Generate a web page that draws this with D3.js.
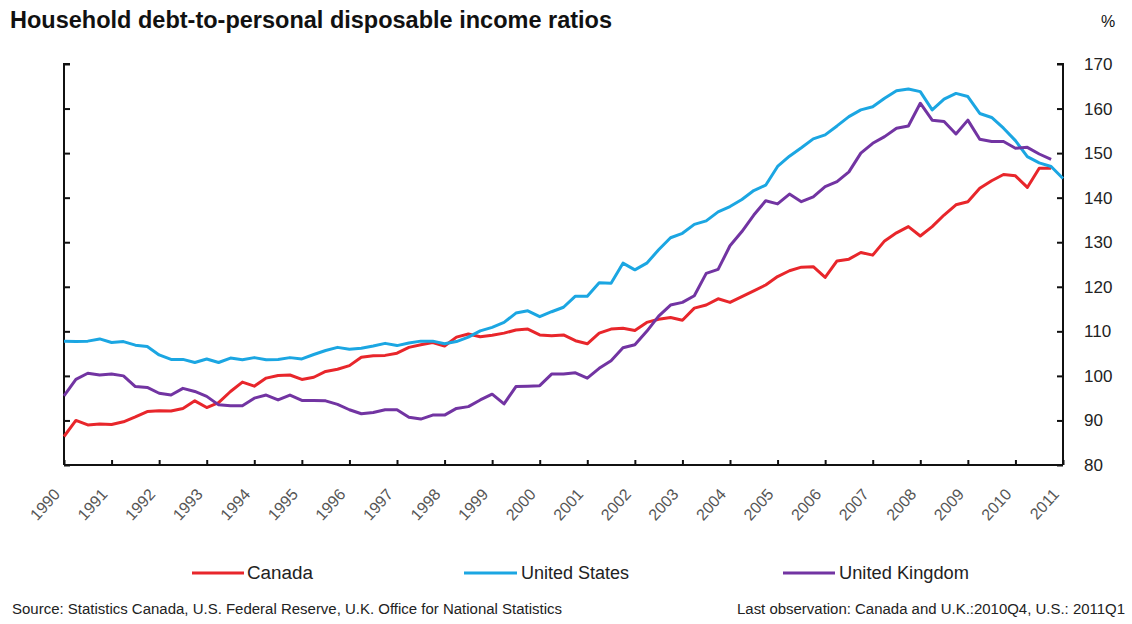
<!DOCTYPE html>
<html>
<head>
<meta charset="utf-8">
<script src="https://cdn.jsdelivr.net/npm/d3@7"></script>
<style>
  body { margin: 0; background: #fff; }
  svg { display: block; font-family: "Liberation Sans Narrow", "Liberation Sans", Arial, sans-serif; }
</style>
</head>
<body>
<svg id="chart" width="1132" height="624"></svg>
<script>
// quarterly ratios, first point 1990Q1
const canada = [86.4, 90.0, 89.0, 89.2, 89.1, 89.7, 90.8, 92.0, 92.2, 92.1, 92.7, 94.4,
  92.9, 94.0, 96.5, 98.6, 97.7, 99.5, 100.1, 100.2, 99.2, 99.7, 101.0, 101.5,
  102.3, 104.2, 104.5, 104.6, 105.1, 106.4, 107.0, 107.5, 106.7, 108.7, 109.4, 108.8,
  109.1, 109.6, 110.3, 110.5, 109.2, 109.0, 109.2, 107.9, 107.2, 109.6, 110.5, 110.7,
  110.2, 112.0, 112.7, 113.1, 112.5, 115.2, 115.9, 117.3, 116.5, 117.8, 119.1, 120.4,
  122.3, 123.6, 124.4, 124.5, 122.1, 125.8, 126.2, 127.7, 127.1, 130.3, 132.1, 133.5,
  131.4, 133.5, 136.1, 138.4, 139.1, 142.1, 143.8, 145.2, 144.9, 142.3, 146.6, 146.6];

const unitedStates = [107.8, 107.7, 107.8, 108.3, 107.5, 107.7, 106.9, 106.6, 104.7, 103.7, 103.7, 103.0,
  103.8, 103.0, 104.0, 103.6, 104.1, 103.6, 103.7, 104.1, 103.8, 104.8, 105.7, 106.4,
  106.0, 106.2, 106.7, 107.3, 106.8, 107.4, 107.8, 107.8, 107.2, 107.7, 108.7, 110.1,
  110.9, 112.0, 114.1, 114.6, 113.3, 114.4, 115.4, 117.9, 117.9, 120.9, 120.8, 125.3,
  123.8, 125.3, 128.3, 131.0, 132.0, 134.0, 134.8, 136.8, 138.0, 139.6, 141.6, 142.8,
  147.0, 149.3, 151.2, 153.2, 154.1, 156.1, 158.2, 159.7, 160.4, 162.3, 164.0, 164.4,
  163.8, 159.7, 162.1, 163.4, 162.7, 158.9, 158.0, 155.6, 152.8, 149.2, 147.8, 147.0,
  144.3];

const unitedKingdom = [95.5, 99.2, 100.6, 100.2, 100.4, 100.0, 97.6, 97.4, 96.1, 95.7, 97.2, 96.5,
  95.4, 93.5, 93.3, 93.3, 95.0, 95.7, 94.6, 95.7, 94.5, 94.5, 94.4, 93.6,
  92.4, 91.5, 91.8, 92.4, 92.4, 90.7, 90.3, 91.2, 91.2, 92.7, 93.1, 94.6,
  95.9, 93.7, 97.6, 97.7, 97.8, 100.4, 100.4, 100.7, 99.5, 101.7, 103.4, 106.3,
  107.0, 110.0, 113.4, 115.9, 116.5, 118.0, 123.0, 123.9, 129.2, 132.4, 136.1, 139.3,
  138.6, 140.8, 139.1, 140.2, 142.5, 143.6, 145.8, 150.0, 152.2, 153.7, 155.6, 156.1,
  161.2, 157.4, 157.1, 154.3, 157.4, 153.1, 152.6, 152.6, 151.1, 151.3, 149.8, 148.6];

const years = d3.range(1990, 2012);
const yTicks = [80, 90, 100, 110, 120, 130, 140, 150, 160, 170];

const series = [
  { name: "Canada", values: canada, color: "#e8262b" },
  { name: "United States", values: unitedStates, color: "#1ba6e2" },
  { name: "United Kingdom", values: unitedKingdom, color: "#7234a2" }
];

const svg = d3.select("#chart");
const plotLeft = 64, plotRight = 1063, plotTop = 64, plotBottom = 465;

const x = d3.scaleLinear().domain([1990, 2011]).range([plotLeft, plotRight]);
const y = d3.scaleLinear().domain([80, 170]).range([plotBottom, plotTop]);

svg.append("text")
  .attr("x", 10).attr("y", 28)
  .attr("font-size", 23).attr("font-weight", "bold").attr("fill", "#111")
  .attr("textLength", 602).attr("lengthAdjust", "spacingAndGlyphs")
  .text("Household debt-to-personal disposable income ratios");

svg.append("text")
  .attr("x", 1101).attr("y", 27)
  .attr("font-size", 16).attr("fill", "#111")
  .text("%");

// left axis, ticks pointing inward
svg.append("g")
  .attr("transform", `translate(${plotLeft},0)`)
  .call(d3.axisRight(y).tickValues(yTicks).tickSize(6).tickFormat(""))
  .call(g => g.select(".domain").attr("d", `M6,${plotTop}H0V${plotBottom}`));

// right axis
svg.append("g")
  .attr("transform", `translate(${plotRight},0)`)
  .call(d3.axisLeft(y).tickValues(yTicks).tickSize(6).tickFormat(""))
  .call(g => g.select(".domain").attr("d", `M-6,${plotTop}H0V${plotBottom}`));

svg.append("g").selectAll("text")
  .data(yTicks)
  .join("text")
  .attr("x", 1084).attr("y", d => y(d) + 6)
  .attr("font-size", 17).attr("fill", "#222")
  .text(d => d);

// bottom axis
svg.append("g")
  .attr("transform", `translate(0,${plotBottom})`)
  .call(d3.axisTop(x).tickValues(years).tickSize(5).tickFormat(""))
  .call(g => g.select(".domain").attr("d", `M${plotLeft},0H${plotRight}`));

svg.selectAll(".tick line, .domain")
  .attr("stroke", "#111").attr("stroke-width", 2);

svg.append("g").selectAll("text")
  .data(years)
  .join("text")
  .attr("text-anchor", "end")
  .attr("font-size", 16).attr("fill", "#555")
  .attr("transform", d => `translate(${x(d) - 3},${plotBottom + 30}) rotate(-48)`)
  .text(d => d);

// lines
const line = d3.line()
  .x((d, i) => x(1990 + i / 4))
  .y(d => y(d));

svg.append("g").selectAll("path")
  .data(series)
  .join("path")
  .attr("fill", "none")
  .attr("stroke", d => d.color)
  .attr("stroke-width", 3)
  .attr("stroke-linejoin", "round")
  .attr("d", d => line(d.values));

// legend
const legendPos = [
  { x1: 192, x2: 244, tx: 247, tw: 66 },
  { x1: 464, x2: 517, tx: 521, tw: 108 },
  { x1: 783, x2: 835, tx: 839, tw: 130 }
];
const legend = svg.append("g").selectAll("g")
  .data(series)
  .join("g");
legend.append("line")
  .attr("x1", (d, i) => legendPos[i].x1).attr("x2", (d, i) => legendPos[i].x2)
  .attr("y1", 573).attr("y2", 573)
  .attr("stroke", d => d.color).attr("stroke-width", 3);
legend.append("text")
  .attr("x", (d, i) => legendPos[i].tx).attr("y", 579)
  .attr("font-size", 18).attr("fill", "#222")
  .attr("textLength", (d, i) => legendPos[i].tw).attr("lengthAdjust", "spacingAndGlyphs")
  .text(d => d.name);

svg.append("text")
  .attr("x", 12).attr("y", 614)
  .attr("font-size", 14).attr("fill", "#222")
  .attr("textLength", 550).attr("lengthAdjust", "spacingAndGlyphs")
  .text("Source: Statistics Canada, U.S. Federal Reserve, U.K. Office for National Statistics");

svg.append("text")
  .attr("x", 737).attr("y", 614)
  .attr("font-size", 14).attr("fill", "#222")
  .attr("textLength", 388).attr("lengthAdjust", "spacingAndGlyphs")
  .text("Last observation: Canada and U.K.:2010Q4, U.S.: 2011Q1");
</script>
</body>
</html>
